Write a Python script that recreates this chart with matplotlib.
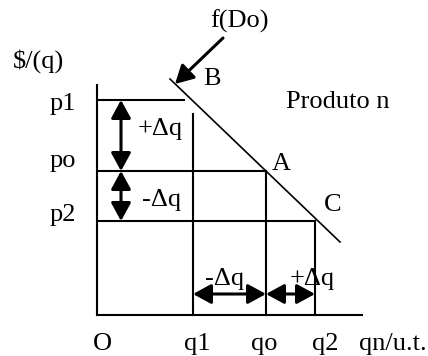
import matplotlib
matplotlib.use("Agg")
import matplotlib.pyplot as plt

# ── Diagram values (units: roughly pixels from origin O) ─────────────────────
q_names = ["O", "q1", "qo", "q2"]
q_vals = [0, 96, 169, 218]
p_names = ["p1", "po", "p2"]
p_vals = [215, 144, 94]
x_end = 265           # end of quantity axis
y_end = 230           # top of price axis
p1_len = 87           # p1 guide line length
q1_top = 201          # top of q1 guide line
demand_q = [73, 243]
demand_p = [236, 73]
arrow_x = 24          # vertical delta arrows
arrow_y = 21          # horizontal delta arrows
fdo_from = (126, 277)
fdo_to = (78, 231)

FS = 19
plt.rcParams["font.family"] = ["Liberation Serif", "DejaVu Serif"]

fig = plt.figure(figsize=(4.28, 3.56), dpi=100)
ax = fig.add_axes([0, 0, 1, 1])
ax.set_xlim(-97, 331)
ax.set_ylim(-41, 315)
ax.axis("off")

lw = 1.5
q1, qo, q2 = q_vals[1:]
p1, po, p2 = p_vals

# axes
ax.plot([0, 0], [0, y_end], color="black", lw=lw)
ax.plot([0, x_end], [0, 0], color="black", lw=lw)

# guide lines
ax.plot([0, p1_len], [p1, p1], color="black", lw=lw)
ax.plot([0, qo], [po, po], color="black", lw=lw)
ax.plot([0, q2], [p2, p2], color="black", lw=lw)
ax.plot([q1, q1], [0, q1_top], color="black", lw=lw)
ax.plot([qo, qo], [0, po], color="black", lw=lw)
ax.plot([q2, q2], [0, p2], color="black", lw=lw)

# demand curve
ax.plot(demand_q, demand_p, color="black", lw=1.2)

# delta arrows
style = "<|-|>,head_length=0.55,head_width=0.3"
for a, b in [((arrow_x, p1), (arrow_x, po)), ((arrow_x, po), (arrow_x, p2)),
             ((q1, arrow_y), (qo, arrow_y)), ((qo, arrow_y), (q2, arrow_y))]:
    ax.annotate("", xy=b, xytext=a,
                arrowprops=dict(arrowstyle=style, color="black", lw=2.2,
                                mutation_scale=20, shrinkA=0, shrinkB=0))

ax.annotate("", xy=fdo_to, xytext=fdo_from,
            arrowprops=dict(arrowstyle="-|>,head_length=0.55,head_width=0.3",
                            color="black", lw=2.2, mutation_scale=20,
                            shrinkA=0, shrinkB=0))

# texts
ax.text(-84, 247, "$/(q)", fontsize=FS)
for name, yb in zip(p_names, [205, 148, 94]):
    ax.text(-47, yb, name, fontsize=FS)
ax.text(41, 180, "+\u0394q", fontsize=FS)
ax.text(45, 109, "-\u0394q", fontsize=FS)
ax.text(108, 30, "-\u0394q", fontsize=FS)
ax.text(193, 30, "+\u0394q", fontsize=FS)
for name, xc in zip(q_names, [5, 100, 167, 228]):
    ax.text(xc, -35, name, fontsize=FS, ha="center")
ax.text(262, -35, "qn/u.t.", fontsize=FS)
ax.text(175, 145, "A", fontsize=FS)
ax.text(106, 230, "B", fontsize=FS)
ax.text(227, 104, "C", fontsize=FS)
ax.text(189, 207, "Produto n", fontsize=FS)
ax.text(113, 287, "f(Do)", fontsize=FS)

fig.savefig("out.png", dpi=100, facecolor="white")
